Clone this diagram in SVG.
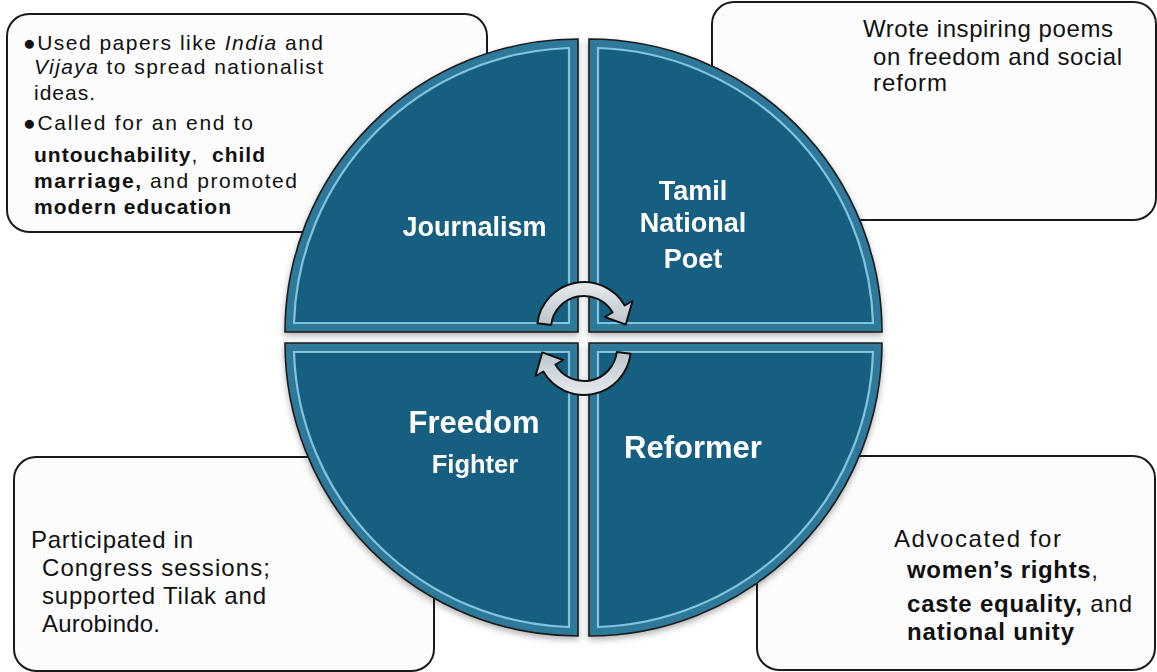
<svg xmlns="http://www.w3.org/2000/svg" width="1157" height="672" viewBox="0 0 1157 672">
<defs>
<style>
.box{fill:#fcfcfc;stroke:#1a1a1a;stroke-width:2}
.body{font-family:"Liberation Sans",Arial,sans-serif;font-size:24px;fill:#111}
.sm{font-size:21px}
.b{font-weight:bold}
.i{font-style:italic}
.lbl{font-family:"Liberation Sans",Arial,sans-serif;font-weight:bold;fill:#fff;text-anchor:middle}
.qo{fill:#2d7899;stroke:#1c1c1c;stroke-width:1.6}
.qi{fill:#175e80;stroke:#93d4ec;stroke-width:2.2;stroke-opacity:0.85}
.arrow{fill:url(#ag);stroke:#111;stroke-width:2;stroke-linejoin:round}
</style>
<linearGradient id="ag" x1="0" y1="0" x2="0" y2="1">
<stop offset="0" stop-color="#e6eaed"/>
<stop offset="1" stop-color="#bcc5cc"/>
</linearGradient>
<filter id="sh" x="-10%" y="-10%" width="120%" height="120%">
<feDropShadow dx="0" dy="3" stdDeviation="3" flood-color="#000" flood-opacity="0.3"/>
</filter>
</defs>
<rect width="1157" height="672" fill="#ffffff"/>

<g id="box-journalism">
<rect class="box" x="7" y="14" width="480" height="218" rx="22"/>
<text class="body sm" x="23" y="50" textLength="300">●Used papers like <tspan class="i">India</tspan> and</text>
<text class="body sm" x="34" y="74" textLength="289"><tspan class="i">Vijaya</tspan> to spread nationalist</text>
<text class="body sm" x="34" y="100" textLength="61">ideas.</text>
<text class="body sm" x="23" y="130" textLength="230">●Called for an end to</text>
<text class="body sm" x="34" y="162" textLength="231" xml:space="preserve"><tspan class="b">untouchability</tspan>,  <tspan class="b">child</tspan></text>
<text class="body sm" x="34" y="188" textLength="263"><tspan class="b">marriage,</tspan> and promoted</text>
<text class="body sm b" x="34" y="214" textLength="197">modern education</text>
</g>

<g id="box-poet">
<rect class="box" x="712" y="2" width="444" height="218" rx="22"/>
<text class="body" x="863" y="37" textLength="250">Wrote inspiring poems</text>
<text class="body" x="873" y="65" textLength="249">on freedom and social</text>
<text class="body" x="873" y="91" textLength="74">reform</text>
</g>

<g id="box-freedom">
<rect class="box" x="14" y="457" width="420" height="214" rx="22"/>
<text class="body" x="31" y="548" textLength="162">Participated in</text>
<text class="body" x="42" y="576" textLength="228">Congress sessions;</text>
<text class="body" x="42" y="604" textLength="224">supported Tilak and</text>
<text class="body" x="42" y="632" textLength="118">Aurobindo.</text>
</g>

<g id="box-reformer">
<rect class="box" x="757" y="456" width="398" height="214" rx="22"/>
<text class="body" x="894" y="547" textLength="167">Advocated for</text>
<text class="body" x="907" y="578" textLength="191"><tspan class="b">women’s rights</tspan>,</text>
<text class="body" x="907" y="612" textLength="225"><tspan class="b">caste equality,</tspan> and</text>
<text class="body b" x="907" y="640" textLength="167">national unity</text>
</g>

<g id="quad-journalism" filter="url(#sh)">
<path class="qo" d="M578,332 L285,332 A293,293 0 0 1 578,39 Z"/>
<path class="qi" d="M569,323 L294,323 A284,284 0 0 1 569,48 Z"/>
<text class="lbl" x="474.5" y="236" font-size="27">Journalism</text>
</g>

<g id="quad-poet" filter="url(#sh)">
<path class="qo" d="M589,332 L589,39 A293,293 0 0 1 882,332 Z"/>
<path class="qi" d="M598,323 L598,48 A284,284 0 0 1 873,323 Z"/>
<text class="lbl" x="693" y="200" font-size="27">Tamil</text>
<text class="lbl" x="693" y="232" font-size="27">National</text>
<text class="lbl" x="693" y="268" font-size="27">Poet</text>
</g>

<g id="quad-freedom" filter="url(#sh)">
<path class="qo" d="M578,343 L578,636 A293,293 0 0 1 285,343 Z"/>
<path class="qi" d="M569,352 L569,627 A284,284 0 0 1 294,352 Z"/>
<text class="lbl" x="474" y="433" font-size="31">Freedom</text>
<text class="lbl" x="475" y="473" font-size="25.5">Fighter</text>
</g>

<g id="quad-reformer" filter="url(#sh)">
<path class="qo" d="M589,343 L882,343 A293,293 0 0 1 589,636 Z"/>
<path class="qi" d="M598,352 L873,352 A284,284 0 0 1 598,627 Z"/>
<text class="lbl" x="693" y="458" font-size="31">Reformer</text>
</g>

<g id="connectors">
<path class="arrow" d="M537.4,323.3 A47,47 0 0 1 624.7,305.5 L632.5,301 L625.8,324.6 L604.8,317 L612.6,312.5 A33,33 0 0 0 551.2,325 Z"/>
<path class="arrow" transform="rotate(180 584 338.5)" d="M537.4,323.3 A47,47 0 0 1 624.7,305.5 L632.5,301 L625.8,324.6 L604.8,317 L612.6,312.5 A33,33 0 0 0 551.2,325 Z"/>
</g>
</svg>
